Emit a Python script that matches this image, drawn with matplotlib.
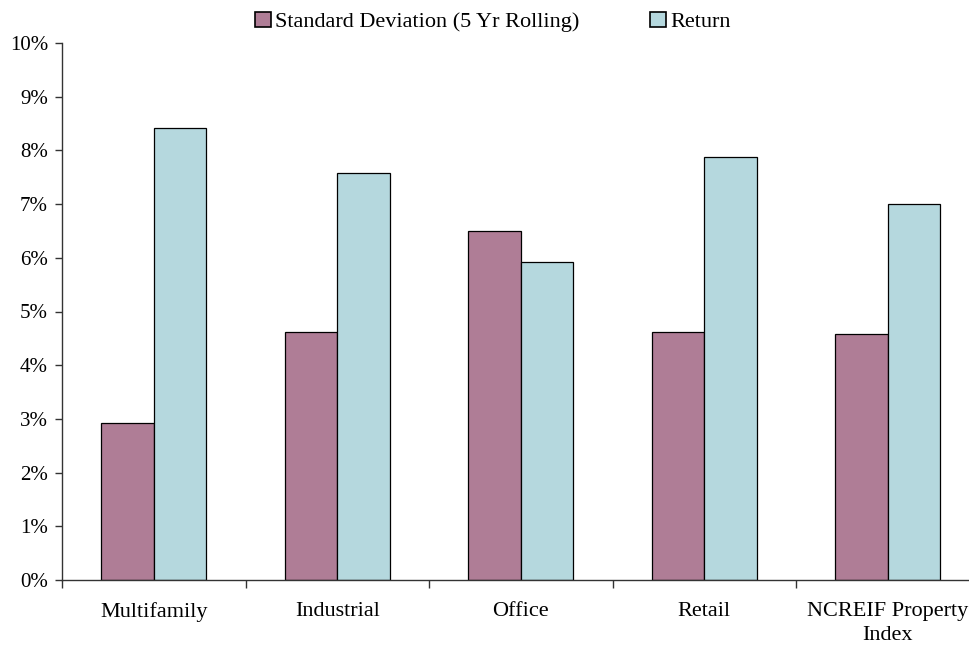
import numpy as np
import matplotlib.pyplot as plt
from matplotlib.patches import Patch
from matplotlib.ticker import FixedLocator, FuncFormatter

plt.rcParams["font.family"] = ["Liberation Serif", "DejaVu Serif"]

categories = ["Multifamily", "Industrial", "Office", "Retail", "NCREIF Property\nIndex"]
std_dev = [2.92, 4.62, 6.49, 4.62, 4.59]
returns = [8.42, 7.58, 5.92, 7.88, 7.00]

purple = "#AF7D96"
blue = "#B5D8DE"

fig = plt.figure(figsize=(9.7, 6.46), dpi=100)
ax = fig.add_axes([62 / 970, 66 / 646, 917.5 / 970, 537 / 646])

x = np.arange(len(categories))
w = 0.286
ax.bar(x - w / 2, std_dev, w, color=purple, edgecolor="black", linewidth=0.9)
ax.bar(x + w / 2, returns, w, color=blue, edgecolor="black", linewidth=0.9)

ax.set_xlim(-0.5, len(categories) - 0.5)
ax.set_ylim(0, 10)
ax.set_yticks(range(0, 11))
ax.yaxis.set_major_formatter(FuncFormatter(lambda v, p: f"{int(v)}%"))

ax.set_xticks(x)
ax.set_xticklabels(categories, linespacing=1.35)
ax.xaxis.set_minor_locator(FixedLocator(np.arange(-0.5, len(categories) - 0.4, 1.0)))
ax.tick_params(axis="x", which="major", length=0, pad=16, labelsize=16)
ax.tick_params(axis="x", which="minor", length=6, width=1, color="#333333")
ax.tick_params(axis="y", length=5, width=1, color="#333333", pad=5, labelsize=15)

for s in ["top", "right"]:
    ax.spines[s].set_visible(False)
for s in ["left", "bottom"]:
    ax.spines[s].set_color("#333333")
    ax.spines[s].set_linewidth(1)

handles = [
    Patch(facecolor=purple, edgecolor="black", linewidth=1.2),
    Patch(facecolor=blue, edgecolor="black", linewidth=1.2),
]
fig.legend(handles, ["Standard Deviation (5 Yr Rolling)", "Return"],
           loc="center", bbox_to_anchor=(493 / 970, 1 - 22 / 646),
           ncol=2, frameon=False, fontsize=16,
           handlelength=0.7, handleheight=0.7, handletextpad=0.2,
           columnspacing=3.2, borderaxespad=0)

fig.savefig("out.png", dpi=100)
